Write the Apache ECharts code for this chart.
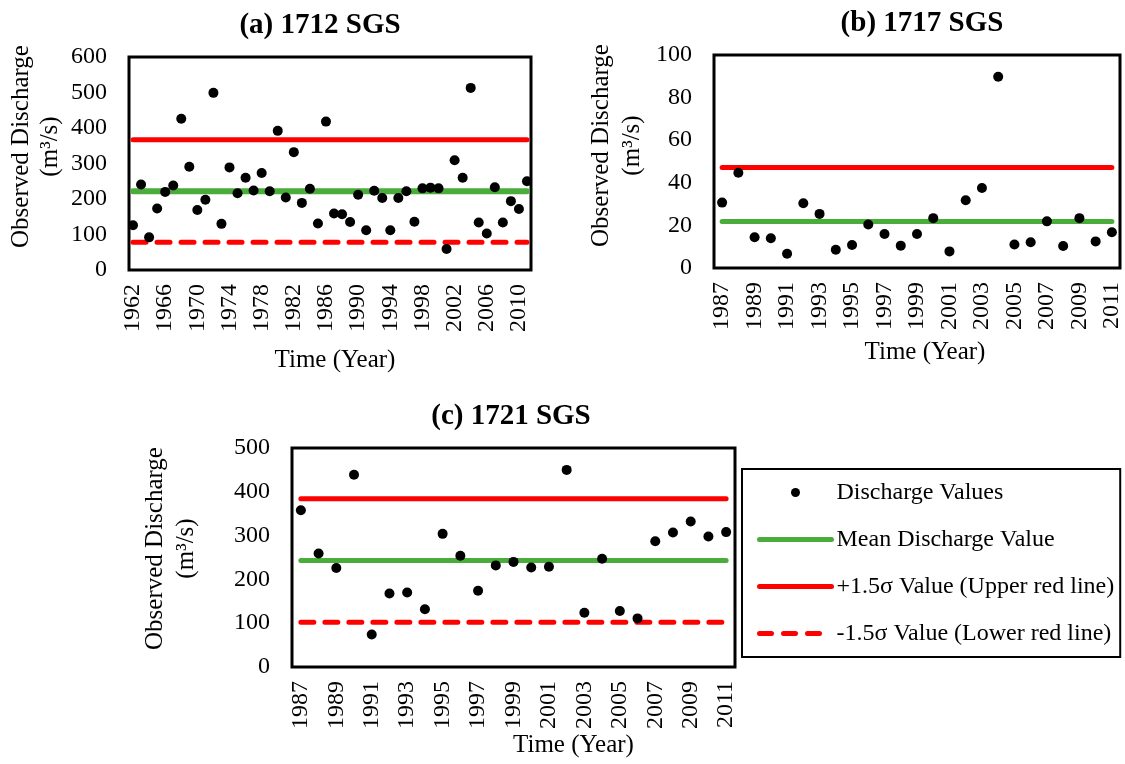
<!DOCTYPE html>
<html>
<head>
<meta charset="utf-8">
<script src="https://cdn.jsdelivr.net/npm/echarts@6/dist/echarts.min.js"></script>
<style>
  html, body { margin: 0; padding: 0; background: #fff; }
  #main { width: 1125px; height: 764px; }
</style>
</head>
<body>
<div id="main"></div>
<script>
(function() {
  var myChart = echarts.init(document.getElementById('main'));
  var FONT = 'Liberation Serif';

  // (a) 1712 SGS
  var yearsA = ['1962','1963','1964','1965','1966','1967','1968','1969','1970','1971',
    '1972','1973','1974','1975','1976','1977','1978','1979','1980','1981',
    '1982','1983','1984','1985','1986','1987','1988','1989','1990','1991',
    '1992','1993','1994','1995','1996','1997','1998','1999','2000','2001',
    '2002','2003','2004','2005','2006','2007','2008','2009','2010','2011'];
  var dischargeA = [126, 241, 92, 173, 220, 238, 426, 291, 169, 198,
    499, 130, 289, 216, 260, 224, 273, 222, 392, 204,
    332, 189, 229, 131, 418, 159, 157, 135, 212, 112,
    223, 203, 112, 203, 222, 136, 230, 232, 230, 59,
    309, 260, 513, 134, 103, 233, 134, 194, 172, 250];
  var meanA = 222, upperA = 367, lowerA = 78;

  // (b) 1717 SGS
  var yearsB = ['1987','1988','1989','1990','1991','1992','1993','1994','1995','1996',
    '1997','1998','1999','2000','2001','2002','2003','2004','2005','2006',
    '2007','2008','2009','2010','2011'];
  var dischargeB = [30.7, 44.7, 14.4, 14.0, 6.7, 30.4, 25.4, 8.6, 10.8, 20.4,
    16.0, 10.5, 16.0, 23.4, 7.8, 31.8, 37.6, 89.8, 11.0, 12.1,
    21.9, 10.3, 23.4, 12.5, 16.8];
  var meanB = 21.8, upperB = 47.2;

  // (c) 1721 SGS
  var yearsC = yearsB.slice();
  var dischargeC = [358, 259, 226, 439, 74, 168, 170, 132, 304, 254,
    174, 232, 240, 227, 229, 450, 124, 247, 128, 111,
    287, 307, 332, 298, 308];
  var meanC = 243, upperC = 384, lowerC = 102;

  var NAME_PTS = 'Discharge Values';
  var NAME_MEAN = 'Mean Discharge Value';
  var NAME_UP = '+1.5σ Value (Upper red line)';
  var NAME_LOW = '-1.5σ Value (Lower red line)';
  var GREEN = '#4aad3b', RED = '#ff0000';

  // tick labels through rich text so the serif font is kept
  var tickRich = { t: { fontFamily: FONT, fontSize: 24, color: '#000' } };

  function xAxisFor(idx, cats, interval, gap, shift) {
    return {
      type: 'category', gridIndex: idx, data: cats, boundaryGap: true,
      axisLine: { show: false }, axisTick: { show: false },
      axisLabel: { rotate: 90, interval: interval, margin: 14, color: '#000', fontFamily: FONT, fontSize: 24,
        formatter: '{t|{value}}', rich: tickRich },
      name: 'Time (Year)', nameLocation: 'middle', nameGap: gap,
      nameTextStyle: { color: '#000', fontFamily: FONT, fontSize: 25, padding: [0, 0, 0, shift] },
      splitLine: { show: false }
    };
  }
  function yAxisFor(idx, max, interval, gap, up, lh) {
    return {
      type: 'value', gridIndex: idx, min: 0, max: max, interval: interval,
      axisLine: { show: false }, axisTick: { show: false }, splitLine: { show: false },
      axisLabel: { margin: 22, color: '#000', fontFamily: FONT, fontSize: 24,
        formatter: '{t|{value}}', rich: tickRich },
      name: 'Observed Discharge\n(m³/s)', nameLocation: 'middle', nameRotate: 90, nameGap: gap,
      nameTextStyle: { color: '#000', fontFamily: FONT, fontSize: 25, lineHeight: lh, align: 'center', padding: [0, 0, 0, up] }
    };
  }
  function flat(cats, v) {
    return cats.map(function() { return v; });
  }
  function lineSeries(name, idx, cats, v, color, dashed, width) {
    return {
      name: name, type: 'line', xAxisIndex: idx, yAxisIndex: idx,
      data: flat(cats, v), symbol: 'none', silent: true, z: 1,
      lineStyle: { color: color, width: width, type: dashed ? [13, 11] : 'solid', cap: 'round' },
      itemStyle: { color: color }
    };
  }
  function pointSeries(idx, data) {
    return {
      name: NAME_PTS, type: 'scatter', xAxisIndex: idx, yAxisIndex: idx,
      data: data, symbolSize: 10, z: 3, itemStyle: { color: '#000', opacity: 1 }
    };
  }
  function titleText(x, y, text) {
    return { type: 'text', x: x, y: y, style: { text: text, fontFamily: FONT, fontSize: 29, fontWeight: 'bold', fill: '#000', align: 'center', verticalAlign: 'middle' } };
  }

  var option = {
    backgroundColor: '#fff',
    textStyle: { fontFamily: FONT },
    animation: false,
    graphic: [
      titleText(320, 26, '(a) 1712 SGS'),
      titleText(922, 24, '(b) 1717 SGS'),
      titleText(511, 417, '(c) 1721 SGS')
    ],
    legend: {
      orient: 'vertical', left: 742, top: 469,
      data: [
        { name: NAME_PTS },
        { name: NAME_MEAN, itemStyle: { opacity: 0 }, lineStyle: { width: 5, cap: 'round' } },
        { name: NAME_UP, itemStyle: { opacity: 0 }, lineStyle: { width: 5, cap: 'round' } },
        { name: NAME_LOW, itemStyle: { opacity: 0 }, lineStyle: { width: 5, cap: 'round', type: [12, 12] } }
      ],
      itemWidth: 72, itemHeight: 9, itemGap: 20,
      padding: [10, 6, 10, 15],
      borderColor: '#000', borderWidth: 2,
      selectedMode: false,
      textStyle: { color: '#000', fontFamily: FONT, fontSize: 24, lineHeight: 27 }
    },
    grid: [
      { left: 129, top: 57, width: 402, height: 213, show: true, borderColor: '#000', borderWidth: 3 },
      { left: 714, top: 55, width: 406, height: 213, show: true, borderColor: '#000', borderWidth: 3 },
      { left: 292, top: 448, width: 443, height: 219, show: true, borderColor: '#000', borderWidth: 3 }
    ],
    xAxis: [
      xAxisFor(0, yearsA, 3, 78, 10),
      xAxisFor(1, yearsB, 1, 72, 16),
      xAxisFor(2, yearsC, 1, 65, 120)
    ],
    yAxis: [
      yAxisFor(0, 600, 100, 64, 34, 29),
      yAxisFor(1, 100, 20, 66, 32, 31),
      yAxisFor(2, 500, 100, 90, 18, 31)
    ],
    series: [
      lineSeries(NAME_MEAN, 0, yearsA, meanA, GREEN, false, 6),
      lineSeries(NAME_UP, 0, yearsA, upperA, RED, false, 5),
      lineSeries(NAME_LOW, 0, yearsA, lowerA, RED, true, 5),
      pointSeries(0, dischargeA),
      lineSeries(NAME_MEAN, 1, yearsB, meanB, GREEN, false, 5),
      lineSeries(NAME_UP, 1, yearsB, upperB, RED, false, 5),
      pointSeries(1, dischargeB),
      lineSeries(NAME_MEAN, 2, yearsC, meanC, GREEN, false, 5),
      lineSeries(NAME_UP, 2, yearsC, upperC, RED, false, 5),
      lineSeries(NAME_LOW, 2, yearsC, lowerC, RED, true, 5),
      pointSeries(2, dischargeC)
    ]
  };
  myChart.setOption(option);
  window.addEventListener('resize', function() {
    myChart.resize();
  });
})();
</script>
</body>
</html>
